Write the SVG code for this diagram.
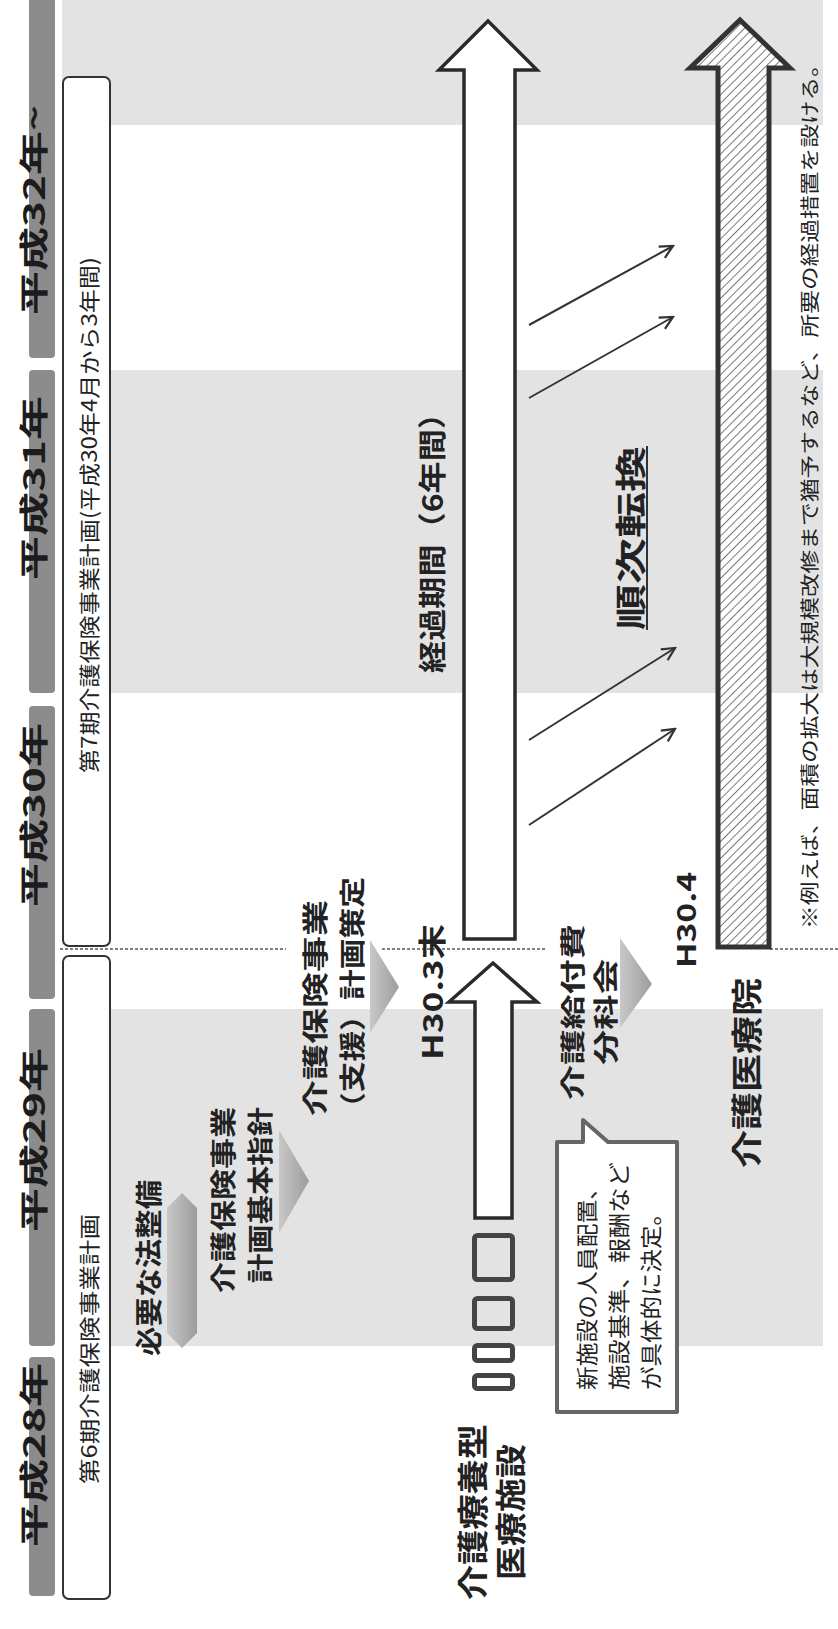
<svg xmlns="http://www.w3.org/2000/svg" width="838" height="1629" viewBox="0 0 838 1629">
<defs>
<style>
text{font-family:"Noto Sans CJK JP","Noto Sans CJK SC",sans-serif;fill:#222;dominant-baseline:central}
.b{font-weight:700}
.band{fill:#e3e3e3}
.bar{fill:#8c8c8c}
.ylab{font-weight:700;font-size:29px;fill:#1c1c1c}
.box{fill:#fff;stroke:#333;stroke-width:2}
.arr{fill:#fff;stroke:#2a2a2a;stroke-width:3.5;stroke-linejoin:miter}
.harr{fill:url(#hatch);stroke:#333;stroke-width:5;stroke-linejoin:miter}
.thin{stroke:#333;stroke-width:2;fill:none}
.dash{stroke:#555;stroke-width:1.5;stroke-dasharray:3 2;fill:none}
.sq{fill:none;stroke:#444;stroke-width:5}
.tri{fill:url(#grad)}
.call{fill:#fff;stroke:#666;stroke-width:4;stroke-linejoin:round}
</style>
<pattern id="hatch" width="6" height="6" patternUnits="userSpaceOnUse" patternTransform="rotate(45)">
<rect width="6" height="6" fill="#fff"/>
<line x1="0" y1="0" x2="0" y2="6" stroke="#555" stroke-width="1.6"/>
</pattern>
<linearGradient id="grad" x1="0" y1="0" x2="1" y2="0">
<stop offset="0" stop-color="#c8c8c8"/>
<stop offset="1" stop-color="#9c9c9c"/>
</linearGradient>
<marker id="ah" viewBox="0 0 10 10" refX="9" refY="5" markerWidth="8" markerHeight="8" orient="auto">
<path d="M1,1 L9,5 L1,9" fill="none" stroke="#333" stroke-width="1.4"/>
</marker>
</defs>

<g id="background">
<rect class="band" x="62" y="0" width="761" height="125"/>
<rect class="band" x="62" y="370" width="761" height="323"/>
<rect class="band" x="62" y="1009" width="761" height="337"/>
</g>

<g id="year-h32">
<rect class="bar" x="29" y="-6" width="26" height="364" rx="4"/>
<text class="ylab" transform="translate(32,210) rotate(-90)" x="-105" textLength="210" lengthAdjust="spacingAndGlyphs">平成32年~</text>
</g>
<g id="year-h31">
<rect class="bar" x="29" y="370" width="26" height="323" rx="4"/>
<text class="ylab" transform="translate(32,488) rotate(-90)" x="-92" textLength="184" lengthAdjust="spacingAndGlyphs">平成31年</text>
</g>
<g id="year-h30">
<rect class="bar" x="29" y="706" width="26" height="293" rx="4"/>
<text class="ylab" transform="translate(32,815) rotate(-90)" x="-92" textLength="184" lengthAdjust="spacingAndGlyphs">平成30年</text>
</g>
<g id="year-h29">
<rect class="bar" x="29" y="1009" width="26" height="337" rx="4"/>
<text class="ylab" transform="translate(32,1140) rotate(-90)" x="-92" textLength="184" lengthAdjust="spacingAndGlyphs">平成29年</text>
</g>
<g id="year-h28">
<rect class="bar" x="29" y="1357" width="26" height="239" rx="4"/>
<text class="ylab" transform="translate(32,1455) rotate(-90)" x="-92" textLength="184" lengthAdjust="spacingAndGlyphs">平成28年</text>
</g>

<g id="plan7">
<rect class="box" x="63" y="77" width="47" height="869" rx="6"/>
<text transform="translate(88,515) rotate(-90)" x="-258" font-size="21" textLength="516" lengthAdjust="spacingAndGlyphs">第7期介護保険事業計画(平成30年4月から3年間)</text>
</g>
<g id="plan6">
<rect class="box" x="63" y="956" width="47" height="643" rx="6"/>
<text transform="translate(88,1349) rotate(-90)" x="-135" font-size="21" textLength="270" lengthAdjust="spacingAndGlyphs">第6期介護保険事業計画</text>
</g>

<g id="connectors">
<path class="dash" d="M60,949 H286 M382,949 H547 M770,949 H838"/>
<line class="thin" x1="529" y1="325" x2="673" y2="246" marker-end="url(#ah)"/>
<line class="thin" x1="529" y1="398" x2="673" y2="317" marker-end="url(#ah)"/>
<line class="thin" x1="529" y1="740" x2="675" y2="648" marker-end="url(#ah)"/>
<line class="thin" x1="529" y1="825" x2="675" y2="729" marker-end="url(#ah)"/>
</g>

<g id="houseibi">
<polygon fill="url(#grad)" points="182,1193 197,1208 197,1333 182,1348 167,1333 167,1208"/>
<text class="b" transform="translate(147,1268) rotate(-90)" x="-88" font-size="27" textLength="176" lengthAdjust="spacingAndGlyphs">必要な法整備</text>
</g>

<g id="kihonshishin">
<text class="b" transform="translate(221,1200) rotate(-90)" x="-93" font-size="26" textLength="186" lengthAdjust="spacingAndGlyphs">介護保険事業</text>
<text class="b" transform="translate(258,1195) rotate(-90)" x="-88" font-size="26" textLength="176" lengthAdjust="spacingAndGlyphs">計画基本指針</text>
<polygon class="tri" points="279,1130 309,1181 279,1233"/>
</g>

<g id="keikaku-sakutei">
<text class="b" transform="translate(313,1008) rotate(-90)" x="-108" font-size="26" textLength="216" lengthAdjust="spacingAndGlyphs">介護保険事業</text>
<text class="b" transform="translate(350,1000) rotate(-90)" x="-123" font-size="26" textLength="246" lengthAdjust="spacingAndGlyphs">（支援）計画策定</text>
<polygon class="tri" points="370,940 399,987 370,1033"/>
</g>

<g id="h303">
<text class="b" transform="translate(431,992) rotate(-90)" x="-68" font-size="28" textLength="136" lengthAdjust="spacingAndGlyphs">H30.3末</text>
</g>

<g id="keika-arrow">
<polygon class="arr" points="488,21 537,70 515,70 515,939 464,939 464,70 439,70"/>
<text class="b" transform="translate(431,535) rotate(-90)" x="-138" font-size="28" textLength="276" lengthAdjust="spacingAndGlyphs">経過期間（6年間）</text>
</g>

<g id="ryoyo">
<polygon class="arr" points="493,963 537,1002 512,1002 512,1218 475,1218 475,1002 449,1002"/>
<rect class="sq" x="474.5" y="1235.5" width="38" height="44" rx="3"/>
<rect class="sq" x="474.5" y="1298.5" width="38" height="30" rx="3"/>
<rect class="sq" x="474.5" y="1345.5" width="38" height="15" rx="3"/>
<rect class="sq" x="474.5" y="1375.5" width="38" height="13" rx="3"/>
<text class="b" transform="translate(470,1512) rotate(-90)" x="-88" font-size="31" textLength="176" lengthAdjust="spacingAndGlyphs">介護療養型</text>
<text class="b" transform="translate(508,1512) rotate(-90)" x="-68" font-size="31" textLength="136" lengthAdjust="spacingAndGlyphs">医療施設</text>
</g>

<g id="junji">
<text class="b" transform="translate(628,538) rotate(-90)" x="-92" font-size="31" textLength="184" lengthAdjust="spacingAndGlyphs">順次転換</text>
<line x1="647" y1="446" x2="647" y2="630" stroke="#333" stroke-width="2"/>
</g>

<g id="bunkakai">
<text class="b" transform="translate(571,1012) rotate(-90)" x="-88" font-size="25" textLength="176" lengthAdjust="spacingAndGlyphs">介護給付費</text>
<text class="b" transform="translate(604,1012) rotate(-90)" x="-53" font-size="25" textLength="106" lengthAdjust="spacingAndGlyphs">分科会</text>
<polygon class="tri" points="620,938 652,984 620,1028"/>
</g>

<g id="h304">
<text class="b" transform="translate(684,920) rotate(-90)" x="-48" font-size="26" textLength="96" lengthAdjust="spacingAndGlyphs">H30.4</text>
</g>

<g id="iryoin">
<polygon class="harr" points="740,20 790,68 769,68 769,947 718,947 718,68 690,68"/>
<text class="b" transform="translate(744,1073) rotate(-90)" x="-95" font-size="31" textLength="190" lengthAdjust="spacingAndGlyphs">介護医療院</text>
</g>

<g id="callout">
<path class="call" d="M557,1142 L583,1142 L583,1120 L608,1142 L677,1142 L677,1412 L557,1412 Z"/>
<text transform="translate(585,1283) rotate(-90)" x="-107" font-size="22" textLength="214" lengthAdjust="spacingAndGlyphs">新施設の人員配置、</text>
<text transform="translate(617,1276) rotate(-90)" x="-114" font-size="22" textLength="228" lengthAdjust="spacingAndGlyphs">施設基準、報酬など</text>
<text transform="translate(649,1296) rotate(-90)" x="-94" font-size="22" textLength="188" lengthAdjust="spacingAndGlyphs">が具体的に決定。</text>
</g>

<g id="footnote">
<text transform="translate(808,491) rotate(-90)" x="-438" font-size="19" textLength="876" lengthAdjust="spacingAndGlyphs">※例えば、面積の拡大は大規模改修まで猶予するなど、所要の経過措置を設ける。</text>
</g>
</svg>
